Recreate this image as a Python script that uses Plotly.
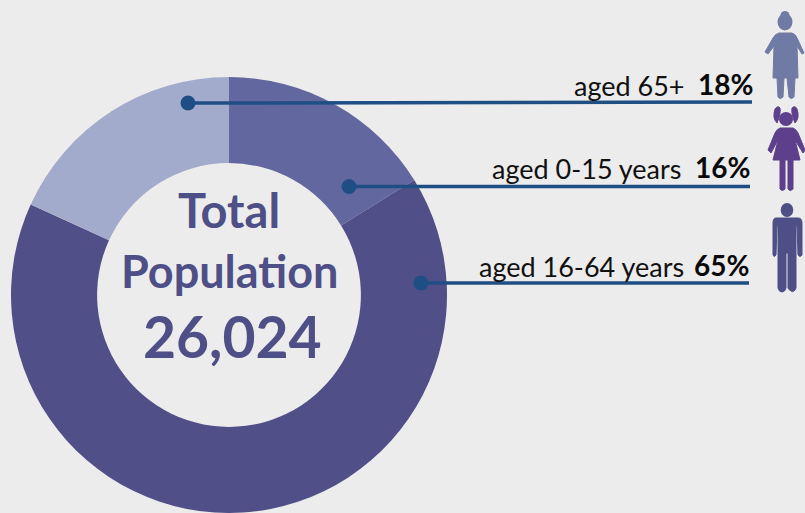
import plotly.graph_objects as go

age_groups = ["aged 0-15 years", "aged 16-64 years", "aged 65+"]
shares = [16, 65, 18]
share_labels = ["16%", "65%", "18%"]
slice_colors = ["#62689f", "#504f87", "#a3abcc"]
centre_lines = ["Total", "Population", "26,024"]

W, H = 805, 513
BG = "#ececec"
INK = "#4f4f87"
LINE = "#1f4e85"
FONT = "Lato, Carlito, Calibri, sans-serif"

fig = go.Figure()
fig.add_trace(go.Pie(
    values=shares, labels=age_groups, sort=False, direction="clockwise", rotation=0,
    hole=0.605, marker=dict(colors=slice_colors, line=dict(width=0)),
    textinfo="none", hoverinfo="label+percent", showlegend=False,
    domain=dict(x=[11 / W, 447 / W], y=[0, 436 / H]),
))

ann = []
for txt, x, y, size in zip(centre_lines, [229, 229.5, 232], [210, 271, 336], [47, 45, 57]):
    ann.append(dict(x=x, y=y, text=f"<b>{txt}</b>", showarrow=False, xanchor="center", yanchor="middle",
                    font=dict(family=FONT, size=size, color=INK)))
rows = [(2, 687, 755, 85), (0, 683, 752, 168), (1, 686, 751, 266)]
for i, xl, xr, y in rows:
    ann.append(dict(x=xl, y=y, text=age_groups[i], showarrow=False, xanchor="right", yanchor="middle",
                    font=dict(family=FONT, size=27, color="#111111")))
    ann.append(dict(x=xr, y=y - 1, text=f"<b>{share_labels[i]}</b>", showarrow=False, xanchor="right", yanchor="middle",
                    font=dict(family=FONT, size=28, color="#0a0a0a")))

WOMAN, GIRL, MAN = "#707ba5", "#5d3f8b", "#4f4f87"
def path(d, c):
    return dict(type="path", path=d, xref="x", yref="y", fillcolor=c, line=dict(color=c, width=1), layer="above")
def circ(cx, cy, rx, ry, c):
    return dict(type="circle", x0=cx - rx, x1=cx + rx, y0=cy - ry, y1=cy + ry, xref="x", yref="y",
                fillcolor=c, line=dict(width=0), layer="above")

shapes = []
# leader lines: start dot, end at the right-hand label
leaders = [(188, 103, 752, 102), (349, 186.5, 750, 186.5), (421, 283, 749, 283)]
for x0, y0, x1, y1 in leaders:
    shapes.append(dict(type="line", x0=x0, x1=x1, y0=y0, y1=y1, xref="x", yref="y",
                       line=dict(color=LINE, width=3.5), layer="above"))
    shapes.append(circ(x0, y0, 7.5, 7.5, LINE))

shapes += [
    # woman
    circ(785, 22, 7.5, 8.5, WOMAN), circ(785, 15, 4.5, 4, WOMAN),
    path("M779,33 L792,33 Q796,34 798,40 L804,53 L802,54 L797,46 L798,78 L773,78 L774,46 L768,54 L765,52 L773,38 Q775,34 779,33 Z", WOMAN),
    path("M777,78 L784,78 L783,97 Q780,100 778,97 Z M787,78 L795,78 L794,97 Q791,100 789,97 Z", WOMAN),
    # girl
    circ(786, 119, 7, 7, GIRL),
    path("M775,109 Q778,105 780,108 Q781,114 777,123 Q772,118 775,109 Z", GIRL),
    path("M792,108 Q795,105 797,109 Q800,118 795,123 Q791,114 792,108 Z", GIRL),
    path("M780,128 L793,128 Q796,129 798,133 L805,150 L803,153 L795,140 L800,160 L773,160 L778,140 L771,153 L768,150 L775,133 Q777,129 780,128 Z", GIRL),
    path("M780,160 L785,160 L785,189 Q782,192 780,189 Z M788,160 L793,160 L793,189 Q790,192 788,189 Z", GIRL),
    # man
    circ(787, 210, 6.3, 7, MAN),
    path("M776,218 L798,218 Q802,218 802,223 L802,255 Q800,258 798,255 L797,226 L796,226 L796,288 Q794,293 791,291 Q789,290 788,288 L788,253 L786,253 L786,288 Q785,292 782,292 Q779,292 778,288 L778,226 L777,226 L776,255 Q774,258 773,255 L773,223 Q773,218 776,218 Z", MAN),
]

fig.update_layout(
    width=W, height=H, autosize=False, margin=dict(l=0, r=0, t=0, b=0),
    paper_bgcolor=BG, plot_bgcolor="rgba(0,0,0,0)", showlegend=False,
    xaxis=dict(range=[0, W], visible=False, fixedrange=True),
    yaxis=dict(range=[H, 0], visible=False, fixedrange=True),
    annotations=ann, shapes=shapes,
)
fig.write_html(
    "out.html", config={"displayModeBar": False},
    post_script=f"document.body.style.margin='0';document.body.style.overflow='hidden';document.body.style.background='{BG}';",
)
